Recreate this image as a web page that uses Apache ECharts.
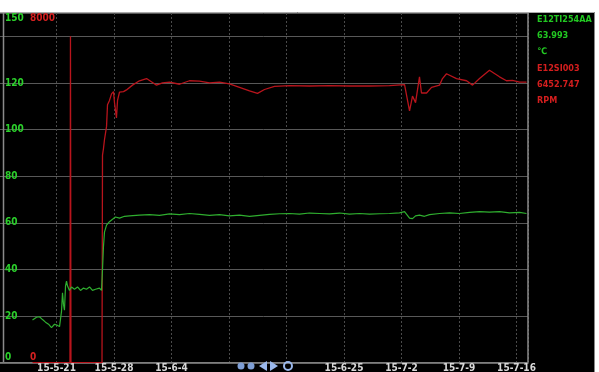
<!DOCTYPE html>
<html><head><meta charset="utf-8">
<script src="https://cdn.jsdelivr.net/npm/echarts@6/dist/echarts.min.js"></script>
<style>html,body{margin:0;padding:0;background:#fff;}#c{width:599px;height:372px;}</style>
</head><body><div id="c"></div>
<script>
// x values: day of year 2015 (Jan 1 = 0; 2015-05-21 = 140)
var tempDays = [137.08,137.57,137.93,138.30,138.66,139.03,139.39,139.76,140.12,140.37,140.61,140.73,140.85,140.97,141.10,141.22,141.34,141.58,141.83,142.19,142.56,142.92,143.29,143.65,144.02,144.38,144.75,145.23,145.48,145.60,145.72,145.84,146.09,146.45,146.82,147.18,147.67,148.28,148.89,150.10,151.32,152.54,153.76,154.97,156.19,157.41,158.63,159.84,161.06,162.28,163.50,164.71,165.93,167.15,168.37,169.58,170.80,172.02,173.24,174.45,175.67,176.89,178.11,179.32,180.54,181.76,182.37,182.98,183.34,183.71,184.19,184.80,185.41,186.63,187.85,189.06,190.28,191.50,192.71,193.93,195.15,196.37,197.22];
var tempValues = [18.3,19.5,19.7,18.5,17.4,16.5,15,16.5,16,15.5,22,30,25,22.5,33,35,33,31,32.5,31.5,32.5,31,32,31.5,32.5,31,31.5,32,31,40,50,56,59,60.5,61.5,62.5,62,62.8,63,63.3,63.5,63.2,63.8,63.5,64,63.6,63.2,63.5,63,63.3,62.8,63.2,63.6,63.9,64,63.7,64.2,64,63.8,64.2,63.7,64,63.7,63.9,64,64.3,64.8,62,61.8,63,63.3,62.8,63.5,64,64.3,64,64.5,64.8,64.6,64.8,64.3,64.5,64];
var rpmDays = [137.08,141.64,141.70,141.76,145.54,145.60,145.72,145.84,146.09,146.21,146.45,146.70,146.94,147.06,147.30,147.43,147.67,148.16,148.52,149.25,150.10,150.96,151.69,152.17,152.90,153.76,154.97,156.19,157.41,158.63,159.84,161.06,162.28,163.50,164.47,165.32,166.54,168.37,170.80,173.24,175.67,178.11,180.54,182.37,182.98,183.34,183.71,184.19,184.43,185.05,185.66,186.63,186.99,187.48,188.70,189.92,190.65,191.50,192.71,193.93,194.78,195.51,196.37,197.22];
var rpmValues = [0,0,7470,0,0,4750,4900,5100,5400,5900,6000,6150,6200,5950,5600,6000,6190,6200,6240,6350,6450,6500,6410,6350,6400,6420,6370,6450,6440,6400,6420,6380,6300,6220,6160,6250,6320,6340,6330,6340,6330,6330,6340,6360,5760,6100,5950,6540,6170,6170,6300,6350,6500,6610,6500,6450,6350,6500,6690,6540,6450,6460,6420,6420];
var hiddenDateTicks = [133, 161, 168];
var legendLines = [
  {text: 'E12TI254AA', color: 'g'},
  {text: '63.993', color: 'g'},
  {text: '℃', color: 'g'},
  {text: 'E12SI003', color: 'r'},
  {text: '6452.747', color: 'r'},
  {text: 'RPM', color: 'r'}
];

var GREEN = '#2bd02b', RED = '#d42020';
var FONT = "'Liberation Sans Narrow','DejaVu Sans Condensed',sans-serif";
function zip(a, b){ return a.map(function(v,i){ return [v, b[i]]; }); }
function dateLabel(v){
  if (Math.abs(v % 7) > 1e-6 || hiddenDateTicks.indexOf(v) >= 0) return '';
  var d = new Date(2015, 0, 1 + v);
  return '15-' + (d.getMonth()+1) + '-' + d.getDate();
}

var legendTexts = legendLines.map(function(l, i){
  return {type:'text', left:537, top: 15 + i*16.3, z: 10,
    style:{text:l.text, fill: l.color==='g' ? '#22c822' : '#d41e1e', font:'bold 9px ' + FONT}};
});

var chart = echarts.init(document.getElementById('c'), null, {renderer:'canvas'});
chart.setOption({
  backgroundColor: '#000',
  animation: false,
  grid: {left: -1, right: 71, top: 13, bottom: 9.3, show: false, containLabel: false, outerBoundsMode: 'none'},
  xAxis: {
    type: 'value', min: 133, max: 197.4, interval: 7,
    axisLine: {show: true, lineStyle: {color: '#8a8a8a', width: 1.5}},
    axisTick: {show: false},
    splitLine: {show: true, lineStyle: {color: '#4a4a4a', type: [2, 2], width: 1}},
    axisLabel: {formatter: dateLabel, color: '#d8d8d8', fontSize: 10, fontWeight: 'bold', fontFamily: FONT, margin: 1, showMaxLabel: false}
  },
  yAxis: [{
    type: 'value', min: 0, max: 150, interval: 20, position: 'left',
    axisLine: {show: false}, axisTick: {show: false},
    splitLine: {show: true, lineStyle: {color: '#585858', width: 1}},
    axisLabel: {inside: true, margin: 6, color: GREEN, fontSize: 10, fontWeight: 'bold', fontFamily: FONT,
      formatter: function(v){ return v === 140 ? '' : String(v); },
      verticalAlignMinLabel: 'bottom', verticalAlignMaxLabel: 'top'}
  }, {
    type: 'value', min: 0, max: 8000, interval: 8000, position: 'left',
    axisLine: {show: false}, axisTick: {show: false}, splitLine: {show: false},
    axisLabel: {inside: true, margin: 31, color: RED, fontSize: 10, fontWeight: 'bold', fontFamily: FONT,
      formatter: function(v){ return String(v); },
      verticalAlignMinLabel: 'bottom', verticalAlignMaxLabel: 'top'}
  }],
  series: [{
    type: 'line', yAxisIndex: 1, data: zip(rpmDays, rpmValues), showSymbol: false,
    lineStyle: {color: '#b8141c', width: 1.3}, z: 3
  }, {
    type: 'line', yAxisIndex: 0, data: zip(tempDays, tempValues), showSymbol: false,
    lineStyle: {color: '#2fae2f', width: 1.2}, z: 4
  }],
  graphic: legendTexts.concat([
    {type:'rect', shape:{x:0, y:0, width:599, height:12}, style:{fill:'#fff'}, z: 20},
    {type:'rect', shape:{x:595, y:0, width:4, height:372}, style:{fill:'#fff'}, z: 20},
    {type:'line', shape:{x1:0, y1:12.5, x2:595, y2:12.5}, style:{stroke:'#aaa', lineWidth:1}, z: 19},
    {type:'line', shape:{x1:594.5, y1:12, x2:594.5, y2:372}, style:{stroke:'#888', lineWidth:1}, z: 19},
    {type:'line', shape:{x1:3.5, y1:13, x2:3.5, y2:362}, style:{stroke:'#8a8a8a', lineWidth:1.5}, z: 19},
    {type:'line', shape:{x1:528, y1:13, x2:528, y2:362}, style:{stroke:'#8a8a8a', lineWidth:1.5}, z: 19},
    {type:'circle', shape:{cx:241, cy:366, r:3.5}, style:{fill:'#7e9fd6'}, z: 19},
    {type:'circle', shape:{cx:251, cy:366, r:3.5}, style:{fill:'#7e9fd6'}, z: 19},
    {type:'polygon', shape:{points:[[259,366],[267,361],[267,371]]}, style:{fill:'#9ab8ec'}, z: 19},
    {type:'polygon', shape:{points:[[278,366],[270,361],[270,371]]}, style:{fill:'#9ab8ec'}, z: 19},
    {type:'circle', shape:{cx:288, cy:366, r:4}, style:{fill:'none', stroke:'#9ab8ec', lineWidth:2}, z: 19}
  ])
});
</script></body></html>
